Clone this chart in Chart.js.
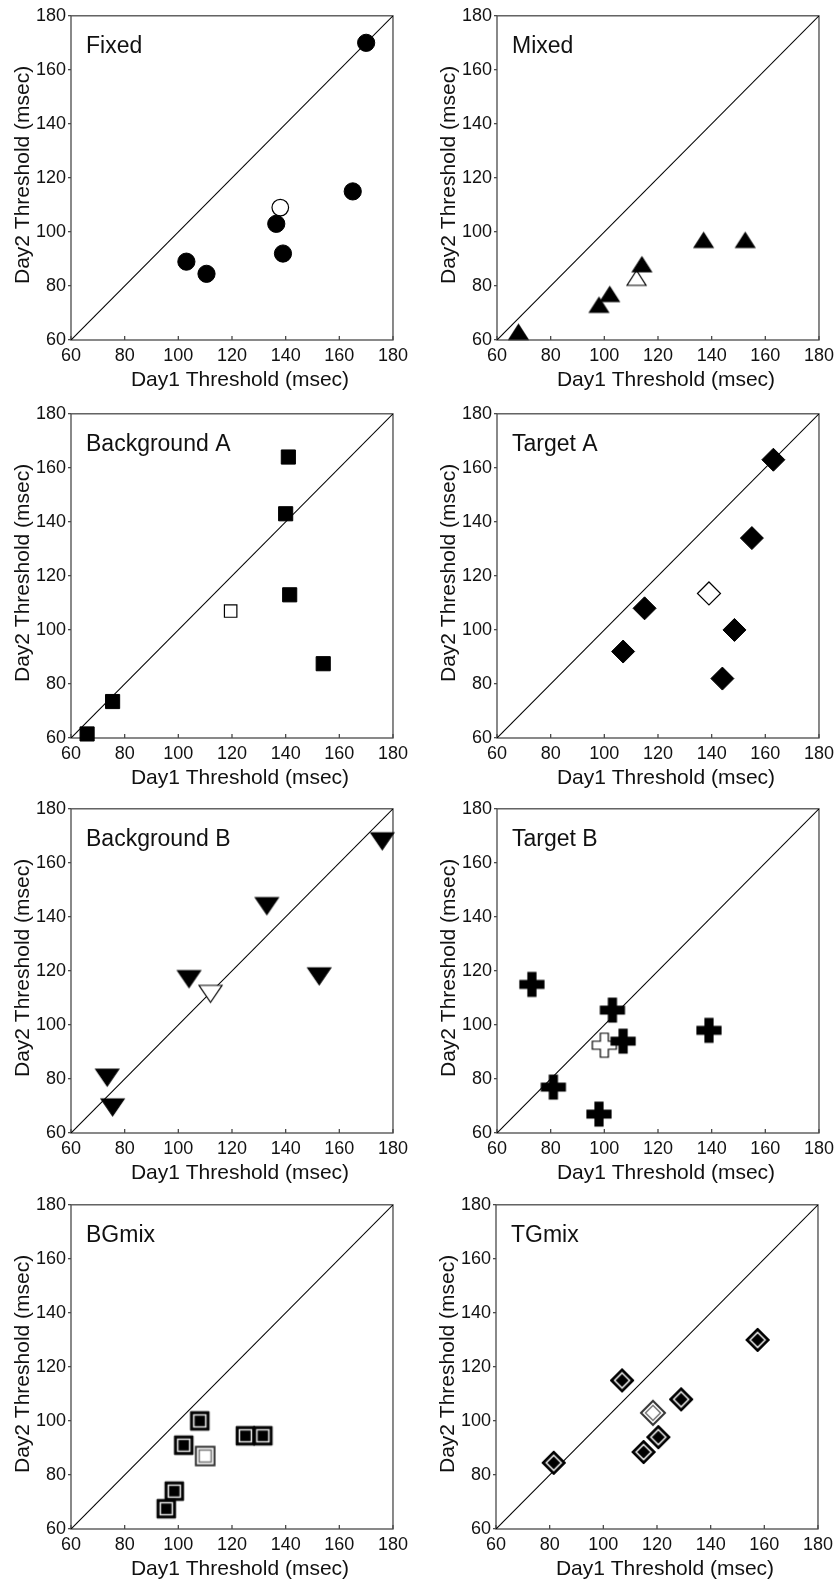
<!DOCTYPE html>
<html>
<head>
<meta charset="utf-8">
<script src="https://cdn.jsdelivr.net/npm/chart.js@4.4.0/dist/chart.umd.min.js"></script>
<style>
    html, body { margin: 0; padding: 0; background: #fff; overflow: hidden; }
    #figure { position: relative; width: 838px; height: 1582px; }
    .panel { position: absolute; }
</style>
</head>
<body>
<div id="figure"></div>
<script>
const AXIS_TICKS = [60, 80, 100, 120, 140, 160, 180];
const DIAGONAL = [60, 180];
const X_TITLE = 'Day1 Threshold (msec)';
const Y_TITLE = 'Day2 Threshold (msec)';
const PANEL_NAMES = ['Fixed', 'Mixed', 'Background A', 'Target A', 'Background B', 'Target B', 'BGmix', 'TGmix'];

// filled symbols, one per listener
const fixedDay1 = [170, 165, 136.5, 139, 103, 110.5];
const fixedDay2 = [170, 115, 103, 92, 89, 84.5];
const mixedDay1 = [68, 98, 102, 114, 137, 152.5];
const mixedDay2 = [63, 73, 77, 88, 97, 97];
const bgADay1 = [66, 75.5, 141, 140, 141.5, 154];
const bgADay2 = [61.5, 73.5, 164, 143, 113, 87.5];
const tgADay1 = [163, 155, 115, 107, 148.5, 144];
const tgADay2 = [163, 134, 108, 92, 100, 82];
const bgBDay1 = [176, 133, 104, 152.5, 73.5, 75.5];
const bgBDay2 = [168, 144, 117, 118, 80.5, 69.5];
const tgBDay1 = [73, 103, 107, 139, 81, 98];
const tgBDay2 = [115, 105.5, 94, 98, 77, 67];
const bgMixDay1 = [108, 102, 125, 131.5, 98.5, 95.5];
const bgMixDay2 = [100, 91, 94.5, 94.5, 74, 67.5];
const tgMixDay1 = [157.5, 107, 129, 120.5, 115, 81.5];
const tgMixDay2 = [130, 115, 108, 94, 88.5, 84.5];

// open symbol (group mean), one per panel
const meanDay1 = [138, 112, 119.5, 139, 112, 100, 110, 118.5];
const meanDay2 = [109, 83, 107, 113.5, 111.5, 92.5, 87, 103];

const DAY1 = [fixedDay1, mixedDay1, bgADay1, tgADay1, bgBDay1, tgBDay1, bgMixDay1, tgMixDay1];
const DAY2 = [fixedDay2, mixedDay2, bgADay2, tgADay2, bgBDay2, tgBDay2, bgMixDay2, tgMixDay2];

// plot area top-left corner of each panel on the page
const PANEL_POS = [[71, 15], [497, 15], [71, 413], [497, 413], [71, 808], [497, 808], [71, 1204], [496, 1204]];
const PLOT_W = 326, PLOT_H = 325;
const PAD_L = 70, PAD_T = 12, PAD_R = 16, PAD_B = 54;

const FONT = '"Liberation Sans", Arial, Helvetica, sans-serif';
const INK = '#000';
const FRAME = '#4a4a4a';
const TEXT = '#111';

Chart.defaults.font.family = FONT;

// ---- marker images ----
function marker(size, paint) {
    const c = document.createElement('canvas');
    c.width = size;
    c.height = size;
    const g = c.getContext('2d');
    g.translate(size / 2, size / 2);
    paint(g);
    return c;
}

function poly(g, pts) {
    g.beginPath();
    pts.forEach(([x, y], i) => i ? g.lineTo(x, y) : g.moveTo(x, y));
    g.closePath();
}

function triangle(w, h, down, open) {
    return marker(Math.ceil(Math.max(w, h)) + 4, g => {
        const s = down ? -1 : 1;
        poly(g, [[0, -s * h / 2], [w / 2, s * h / 2], [-w / 2, s * h / 2]]);
        g.fillStyle = open ? '#fff' : INK;
        g.fill();
        g.lineWidth = 1.2;
        g.strokeStyle = INK;
        g.stroke();
    });
}

function plus(a, t, open) {
    return marker(2 * a + 4, g => {
        poly(g, [[-t, -a], [t, -a], [t, -t], [a, -t], [a, t], [t, t], [t, a], [-t, a], [-t, t], [-a, t], [-a, -t], [-t, -t]]);
        g.fillStyle = open ? '#fff' : INK;
        g.fill();
        g.lineWidth = 1.2;
        g.strokeStyle = INK;
        g.stroke();
    });
}

const squarePath = (g, r) => poly(g, [[-r, -r], [r, -r], [r, r], [-r, r]]);
const diamondPath = (g, r) => poly(g, [[0, -r], [r, 0], [0, r], [-r, 0]]);

function doubled(pathFn, outer, inner, open) {
    return marker(Math.ceil(2 * outer) + 6, g => {
        if (open) {
            pathFn(g, outer);
            g.fillStyle = '#fff';
            g.fill();
            g.lineWidth = 2;
            g.strokeStyle = '#333';
            g.stroke();
            pathFn(g, inner);
            g.lineWidth = 1.5;
            g.strokeStyle = '#777';
            g.stroke();
        } else {
            pathFn(g, outer);
            g.fillStyle = INK;
            g.fill();
            g.lineWidth = 1;
            g.strokeStyle = INK;
            g.stroke();
            pathFn(g, inner);
            g.lineWidth = 1.6;
            g.strokeStyle = '#e6e6e6';
            g.stroke();
        }
    });
}

const builtIn = (style, radius, open) => ({
    pointStyle: style,
    pointRadius: radius,
    backgroundColor: open ? '#fff' : INK,
    borderColor: INK,
    borderWidth: open ? 1.2 : 1,
});
const image = img => ({pointStyle: img, pointRadius: 10, backgroundColor: INK, borderColor: INK, borderWidth: 0});

const MARKERS = [
    [builtIn('circle', 8.6, false), builtIn('circle', 8.3, true)],
    [image(triangle(19, 15, false, false)), image(triangle(19, 15, false, true))],
    [builtIn('rect', 10, false), builtIn('rect', 8.8, true)],
    [builtIn('rectRot', 11.5, false), builtIn('rectRot', 11.5, true)],
    [image(triangle(23, 17, true, false)), image(triangle(23, 17, true, true))],
    [image(plus(12, 4, false)), image(plus(12, 4, true))],
    [image(doubled(squarePath, 9.3, 6, false)), image(doubled(squarePath, 9.3, 6, true))],
    [image(doubled(diamondPath, 12, 7.5, false)), image(doubled(diamondPath, 12, 7.5, true))],
];

// ---- frame, inward x ticks, labels ----
const framePlugin = {
    id: 'frame',
    beforeDatasetsDraw(chart) {
        const {ctx, chartArea: a, scales: {x}} = chart;
        ctx.save();
        ctx.strokeStyle = FRAME;
        ctx.lineWidth = 1.3;
        ctx.strokeRect(a.left, a.top, a.width, a.height);
        ctx.beginPath();
        x.ticks.forEach(t => {
            const px = x.getPixelForValue(t.value);
            ctx.moveTo(px, a.bottom);
            ctx.lineTo(px, a.bottom - 4);
        });
        ctx.stroke();

        ctx.fillStyle = TEXT;
        ctx.textBaseline = 'alphabetic';
        ctx.font = `23px ${FONT}`;
        ctx.textAlign = 'left';
        ctx.fillText(chart.options.plugins.frame.label, a.left + 15, a.top + 37);

        ctx.font = `21px ${FONT}`;
        ctx.textAlign = 'center';
        ctx.fillText(X_TITLE, (a.left + a.right) / 2 + 8, a.bottom + 46);

        ctx.translate(a.left - 42, (a.top + a.bottom) / 2 - 3);
        ctx.rotate(-Math.PI / 2);
        ctx.fillText(Y_TITLE, 0, 0);
        ctx.restore();
    }
};

function buildPanel(i) {
    const [px, py] = PANEL_POS[i];
    const box = document.createElement('div');
    box.className = 'panel';
    box.style.left = (px - PAD_L) + 'px';
    box.style.top = (py - PAD_T) + 'px';
    box.style.width = (PAD_L + PLOT_W + PAD_R) + 'px';
    box.style.height = (PAD_T + PLOT_H + PAD_B) + 'px';
    const canvas = document.createElement('canvas');
    box.appendChild(canvas);
    document.getElementById('figure').appendChild(box);

    const [filledStyle, openStyle] = MARKERS[i];
    const points = DAY1[i].map((d1, k) => ({x: d1, y: DAY2[i][k]}));

    new Chart(canvas, {
        type: 'scatter',
        data: {
            datasets: [
                {
                    data: DIAGONAL.map(v => ({x: v, y: v})),
                    showLine: true,
                    borderColor: INK,
                    borderWidth: 1.1,
                    pointRadius: 0,
                    order: 3,
                },
                {
                    data: [{x: meanDay1[i], y: meanDay2[i]}],
                    ...openStyle,
                    clip: false,
                    order: 2,
                },
                {
                    data: points,
                    ...filledStyle,
                    clip: false,
                    order: 1,
                },
            ],
        },
        options: {
            responsive: true,
            maintainAspectRatio: false,
            animation: false,
            events: [],
            layout: {
                autoPadding: false,
                padding: {top: PAD_T, right: PAD_R, left: 0, bottom: 0},
            },
            plugins: {
                legend: {display: false},
                tooltip: {enabled: false},
                frame: {label: PANEL_NAMES[i]},
            },
            scales: {
                x: {
                    type: 'linear',
                    min: AXIS_TICKS[0],
                    max: AXIS_TICKS[AXIS_TICKS.length - 1],
                    afterFit: s => { s.height = PAD_B; },
                    afterBuildTicks: s => { s.ticks = AXIS_TICKS.map(v => ({value: v})); },
                    grid: {display: false, drawTicks: false, tickLength: 0},
                    border: {display: false},
                    ticks: {
                        color: TEXT,
                        padding: 5,
                        maxRotation: 0,
                        autoSkip: false,
                        font: {size: 18},
                    },
                },
                y: {
                    type: 'linear',
                    min: AXIS_TICKS[0],
                    max: AXIS_TICKS[AXIS_TICKS.length - 1],
                    afterFit: s => { s.width = PAD_L; },
                    afterBuildTicks: s => { s.ticks = AXIS_TICKS.map(v => ({value: v})); },
                    grid: {
                        display: true,
                        drawOnChartArea: false,
                        drawTicks: true,
                        tickLength: 3,
                        color: FRAME,
                        lineWidth: 1.3,
                    },
                    border: {display: false},
                    ticks: {
                        color: TEXT,
                        padding: 2,
                        autoSkip: false,
                        font: {size: 18},
                    },
                },
            },
        },
        plugins: [framePlugin],
    });
}

PANEL_NAMES.forEach((_, i) => buildPanel(i));
</script>
</body>
</html>
